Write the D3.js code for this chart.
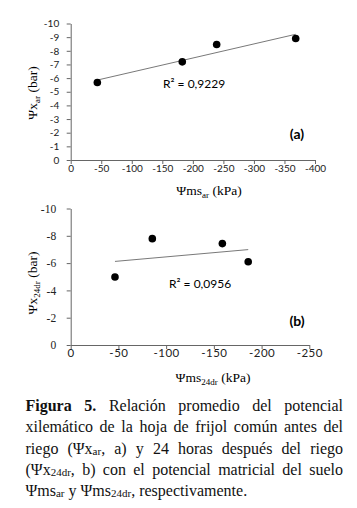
<!DOCTYPE html>
<html>
<head>
<meta charset="utf-8">
<script src="https://cdn.jsdelivr.net/npm/d3@7"></script>
<style>
  body { margin: 0; background: #fff; }
  svg { display: block; }
</style>
</head>
<body>
<svg id="fig" width="357" height="508"></svg>
<script>
// panel (a): before irrigation
const msAr = [-43.6, -182.7, -239, -368.4];
const xAr = [-5.68, -7.19, -8.46, -8.9];
// panel (b): 24 h after irrigation
const ms24 = [-46.4, -85.5, -158.9, -186];
const x24 = [-4.98, -7.79, -7.43, -6.1];

const ticksYA = [0, -1, -2, -3, -4, -5, -6, -7, -8, -9, -10];
const ticksXA = [0, -50, -100, -150, -200, -250, -300, -350, -400];
const ticksYB = [0, -2, -4, -6, -8, -10];
const ticksXB = [0, -50, -100, -150, -200, -250];
const r2Labels = ["R² = 0,9229", "R² = 0,0956"];
const panelLabels = ["(a)", "(b)"];

const svg = d3.select("#fig");

function fit(xs, ys) {
  const mx = d3.mean(xs), my = d3.mean(ys);
  const sxy = d3.sum(xs, (x, i) => (x - mx) * (ys[i] - my));
  const sxx = d3.sum(xs, x => (x - mx) * (x - mx));
  const b = sxy / sxx;
  return x => my + b * (x - mx);
}

function panel(o) {
  const x = d3.scaleLinear().domain([0, o.xMin]).range([70.7, o.right]);
  const y = d3.scaleLinear().domain([0, -10]).range([o.bottom, o.bottom - 136.5]);
  const g = svg.append("g");

  const ax = g.append("g")
    .attr("transform", `translate(0,${o.bottom})`)
    .call(d3.axisBottom(x).tickValues(o.xt).tickSize(4).tickSizeOuter(0).tickFormat(d => String(d)));
  ax.selectAll("text")
    .attr("font-family", "Lato, sans-serif")
    .attr("font-size", o.xFont)
    .attr("letter-spacing", o.xSpace)
    .attr("fill", "#222")
    .attr("y", o.xLabY)
    .attr("dy", null);

  const ay = g.append("g")
    .attr("transform", "translate(70.7,0)")
    .call(d3.axisLeft(y).tickValues(o.yt).tickSize(4).tickSizeOuter(0).tickFormat(d => String(d)));
  ay.selectAll("text")
    .attr("font-family", o.yFam)
    .attr("font-size", o.yFont)
    .attr("fill", "#222")
    .attr("x", o.yLabX);

  g.selectAll(".domain, .tick line").attr("stroke", "#666").attr("stroke-width", 1);

  const f = fit(o.xs, o.ys);
  const ext = d3.extent(o.xs);
  g.append("line")
    .attr("x1", x(ext[1])).attr("y1", y(f(ext[1])))
    .attr("x2", x(ext[0])).attr("y2", y(f(ext[0])))
    .attr("stroke", "#555").attr("stroke-width", 0.8);

  g.selectAll("circle").data(o.xs).join("circle")
    .attr("cx", d => x(d))
    .attr("cy", (d, i) => y(o.ys[i]))
    .attr("r", 3.8)
    .attr("fill", "#000");

  g.append("text")
    .attr("x", o.r2x).attr("y", o.r2y)
    .attr("font-family", "Lato, sans-serif").attr("font-size", 12)
    .text(o.r2);

  g.append("text")
    .attr("x", 297).attr("y", o.labY)
    .attr("text-anchor", "middle")
    .attr("font-family", "Lato, sans-serif").attr("font-weight", "bold").attr("font-size", 14)
    .text(o.lab);

  // axis titles
  const xt = g.append("text")
    .attr("x", o.xTitleX).attr("y", o.xTitleY)
    .attr("text-anchor", "middle")
    .attr("font-family", "'Liberation Serif', serif").attr("font-size", 13.5);
  xt.append("tspan").text("Ψms");
  xt.append("tspan").attr("font-size", 9).attr("dy", 3).text(o.sub);
  xt.append("tspan").attr("dy", -3).text(" (kPa)");

  const yt = g.append("text")
    .attr("transform", `translate(37,${o.yTitleY}) rotate(-90)`)
    .attr("text-anchor", "middle")
    .attr("font-family", "'Liberation Serif', serif").attr("font-size", 13.5);
  yt.append("tspan").text("Ψx");
  yt.append("tspan").attr("font-size", 9).attr("dy", 3).text(o.sub);
  yt.append("tspan").attr("dy", -3).text(" (bar)");
}

panel({
  xs: msAr, ys: xAr, xMin: -400, right: 315, bottom: 160,
  xt: ticksXA, yt: ticksYA, xFont: 10, xSpace: 0, xLabY: 11.5,
  yFam: "Lato, sans-serif", yFont: 10, yLabX: -11.5,
  r2: r2Labels[0], r2x: 163, r2y: 88, lab: panelLabels[0], labY: 139,
  xTitleX: 209, xTitleY: 195, yTitleY: 93, sub: "ar"
});
panel({
  xs: ms24, ys: x24, xMin: -250, right: 309.3, bottom: 345,
  xt: ticksXB, yt: ticksYB, xFont: 11.5, xSpace: 0.5, xLabY: 12,
  yFam: "'Liberation Serif', serif", yFont: 11.5, yLabX: -14.5,
  r2: r2Labels[1], r2x: 169, r2y: 288, lab: panelLabels[1], labY: 326,
  xTitleX: 213, xTitleY: 381.5, yTitleY: 283, sub: "24dr"
});

// caption, justified by hand
const captionLines = [
  [[["Figura", "b"]], [["5.", "b"]], [["Relación"]], [["promedio"]], [["del"]], [["potencial"]]],
  [[["xilemático"]], [["de"]], [["la"]], [["hoja"]], [["de"]], [["frijol"]], [["común"]], [["antes"]], [["del"]]],
  [[["riego"]], [["(Ψx"], ["ar", "s"], [","]], [["a)"]], [["y"]], [["24"]], [["horas"]], [["después"]], [["del"]], [["riego"]]],
  [[["(Ψx"], ["24dr", "s"], [","]], [["b)"]], [["con"]], [["el"]], [["potencial"]], [["matricial"]], [["del"]], [["suelo"]]],
  [[["Ψms"], ["ar", "s"]], [["y"]], [["Ψms"], ["24dr", "s"], [","]], [["respectivamente."]]]
];
const capLeft = 25.5, capRight = 343, capTop = 411, capStep = 21.3;

captionLines.forEach((line, li) => {
  const words = line.map(parts => {
    const t = svg.append("text")
      .attr("y", capTop + li * capStep)
      .attr("font-family", "'Liberation Serif', serif")
      .attr("font-size", 16)
      .attr("fill", "#111");
    parts.forEach(([s, k]) => {
      const sp = t.append("tspan").text(s);
      if (k === "b") sp.attr("font-weight", "bold");
      if (k === "s") sp.attr("font-size", 11).attr("baseline-shift", "-1");
    });
    return t;
  });
  const widths = words.map(t => t.node().getComputedTextLength());
  const last = li === captionLines.length - 1;
  const gap = last ? 4 : (capRight - capLeft - d3.sum(widths)) / (words.length - 1);
  let cx = capLeft;
  words.forEach((t, i) => {
    t.attr("x", cx);
    cx += widths[i] + gap;
  });
});
</script>
</body>
</html>
